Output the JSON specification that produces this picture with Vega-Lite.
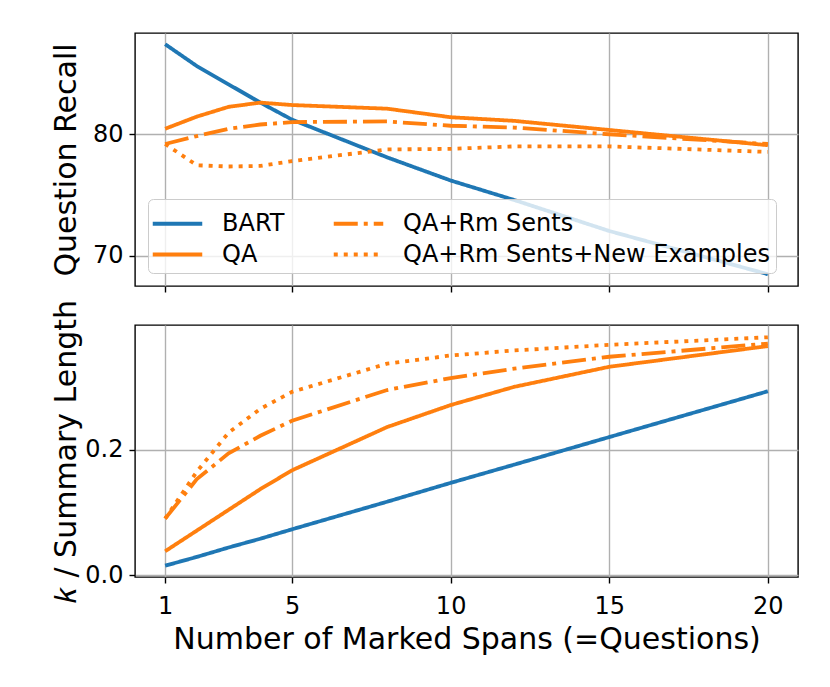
{
  "$schema": "https://vega.github.io/schema/vega-lite/v6.json",
  "padding": {"left": 50, "top": 32, "right": 30, "bottom": 10},
  "config": {
    "font": "DejaVu Sans",
    "view": {"stroke": "black", "strokeWidth": 1.4},
    "axis": {
      "grid": true, "gridColor": "#b0b0b0", "gridWidth": 1.4, "domain": false,
      "tickColor": "black", "tickWidth": 1.4, "tickSize": 6,
      "labelColor": "black", "titleColor": "black",
      "labelFont": "DejaVu Sans", "titleFont": "DejaVu Sans",
      "labelFontSize": 24, "titleFontSize": 30, "titleFontWeight": "normal"
    },
    "concat": {"spacing": 4}
  },
  "data": {"values": [
    {"series": "BART", "n": 1, "recall": 87.4, "k": 0.015},
    {"series": "BART", "n": 2, "recall": 85.6, "k": 0.029},
    {"series": "BART", "n": 3, "recall": 84.1, "k": 0.044},
    {"series": "BART", "n": 4, "recall": 82.6, "k": 0.058},
    {"series": "BART", "n": 5, "recall": 81.2, "k": 0.073},
    {"series": "BART", "n": 8, "recall": 78.1, "k": 0.117},
    {"series": "BART", "n": 10, "recall": 76.2, "k": 0.147},
    {"series": "BART", "n": 12, "recall": 74.6, "k": 0.176},
    {"series": "BART", "n": 15, "recall": 72.05, "k": 0.22},
    {"series": "BART", "n": 20, "recall": 68.5, "k": 0.293},
    {"series": "QA", "n": 1, "recall": 80.45, "k": 0.038},
    {"series": "QA", "n": 2, "recall": 81.45, "k": 0.071},
    {"series": "QA", "n": 3, "recall": 82.25, "k": 0.104},
    {"series": "QA", "n": 4, "recall": 82.6, "k": 0.137},
    {"series": "QA", "n": 5, "recall": 82.4, "k": 0.167},
    {"series": "QA", "n": 8, "recall": 82.1, "k": 0.236},
    {"series": "QA", "n": 10, "recall": 81.4, "k": 0.271},
    {"series": "QA", "n": 12, "recall": 81.1, "k": 0.3},
    {"series": "QA", "n": 15, "recall": 80.35, "k": 0.332},
    {"series": "QA", "n": 20, "recall": 79.1, "k": 0.365},
    {"series": "QA+Rm Sents", "n": 1, "recall": 79.2, "k": 0.09},
    {"series": "QA+Rm Sents", "n": 2, "recall": 79.85, "k": 0.153},
    {"series": "QA+Rm Sents", "n": 3, "recall": 80.45, "k": 0.194},
    {"series": "QA+Rm Sents", "n": 4, "recall": 80.8, "k": 0.222},
    {"series": "QA+Rm Sents", "n": 5, "recall": 81.0, "k": 0.246},
    {"series": "QA+Rm Sents", "n": 8, "recall": 81.05, "k": 0.295},
    {"series": "QA+Rm Sents", "n": 10, "recall": 80.7, "k": 0.314},
    {"series": "QA+Rm Sents", "n": 12, "recall": 80.55, "k": 0.329},
    {"series": "QA+Rm Sents", "n": 15, "recall": 80.0, "k": 0.348},
    {"series": "QA+Rm Sents", "n": 20, "recall": 79.2, "k": 0.369},
    {"series": "QA+Rm Sents+New Examples", "n": 1, "recall": 79.2, "k": 0.09},
    {"series": "QA+Rm Sents+New Examples", "n": 2, "recall": 77.45, "k": 0.165},
    {"series": "QA+Rm Sents+New Examples", "n": 3, "recall": 77.35, "k": 0.227},
    {"series": "QA+Rm Sents+New Examples", "n": 4, "recall": 77.4, "k": 0.265},
    {"series": "QA+Rm Sents+New Examples", "n": 5, "recall": 77.8, "k": 0.292},
    {"series": "QA+Rm Sents+New Examples", "n": 8, "recall": 78.75, "k": 0.337},
    {"series": "QA+Rm Sents+New Examples", "n": 10, "recall": 78.8, "k": 0.35},
    {"series": "QA+Rm Sents+New Examples", "n": 12, "recall": 79.0, "k": 0.358},
    {"series": "QA+Rm Sents+New Examples", "n": 15, "recall": 79.0, "k": 0.367},
    {"series": "QA+Rm Sents+New Examples", "n": 20, "recall": 78.55, "k": 0.379}
  ]},
  "resolve": {
    "scale": {"color": "independent", "strokeDash": "independent"},
    "legend": {"color": "independent", "strokeDash": "independent"}
  },
  "vconcat": [
    {
      "width": 663, "height": 253,
      "mark": {"type": "line", "strokeWidth": 3.8, "strokeCap": "butt"},
      "encoding": {
        "x": {"field": "n", "type": "quantitative",
              "scale": {"domain": [0.05, 20.95], "nice": false, "zero": false},
              "axis": {"values": [1, 5, 10, 15, 20], "labels": false, "title": null}},
        "y": {"field": "recall", "type": "quantitative",
              "scale": {"domain": [67.53, 88.32], "nice": false, "zero": false},
              "axis": {"values": [70, 80], "title": "Question Recall", "minExtent": 44, "maxExtent": 44, "titlePadding": 10, "labelPadding": 6}},
        "color": {"field": "series", "type": "nominal",
                  "scale": {"domain": ["BART", "QA", "QA+Rm Sents", "QA+Rm Sents+New Examples"],
                            "range": ["#1f77b4", "#ff7f0e", "#ff7f0e", "#ff7f0e"]},
                  "legend": {"orient": "bottom-left", "offset": 13, "columns": 2, "title": null,
                             "values": ["BART", "QA", "QA+Rm Sents", "QA+Rm Sents+New Examples"],
                             "gridAlign": "each",
                             "symbolType": "M-1.5,0H1.5", "symbolSize": 1089, "symbolStrokeWidth": 3.8,
                             "symbolOffset": 5,
                             "labelFontSize": 24, "labelColor": "black", "labelOffset": 26, "labelLimit": 600,
                             "columnPadding": 41, "rowPadding": 0, "padding": 6,
                             "fillColor": "rgba(255,255,255,0.8)", "strokeColor": "#cccccc", "cornerRadius": 5}},
        "strokeDash": {"field": "series", "type": "nominal",
                       "scale": {"domain": ["BART", "QA", "QA+Rm Sents", "QA+Rm Sents+New Examples"],
                                 "range": [[1, 0], [1, 0], [24, 6, 4, 6], [4, 6]]}}
      }
    },
    {
      "width": 663, "height": 252,
      "mark": {"type": "line", "strokeWidth": 3.8, "strokeCap": "butt"},
      "encoding": {
        "x": {"field": "n", "type": "quantitative",
              "scale": {"domain": [0.05, 20.95], "nice": false, "zero": false},
              "axis": {"values": [1, 5, 10, 15, 20], "title": "Number of Marked Spans (=Questions)", "labelPadding": 11, "titlePadding": 6}},
        "y": {"field": "k", "type": "quantitative",
              "scale": {"domain": [-0.003, 0.3986], "nice": false, "zero": false},
              "axis": {"values": [0, 0.2], "format": ".1f", "title": "𝑘 / Summary Length", "minExtent": 44, "maxExtent": 44, "titlePadding": 10, "labelPadding": 6}},
        "color": {"field": "series", "type": "nominal",
                  "scale": {"domain": ["BART", "QA", "QA+Rm Sents", "QA+Rm Sents+New Examples"],
                            "range": ["#1f77b4", "#ff7f0e", "#ff7f0e", "#ff7f0e"]},
                  "legend": null},
        "strokeDash": {"field": "series", "type": "nominal",
                       "scale": {"domain": ["BART", "QA", "QA+Rm Sents", "QA+Rm Sents+New Examples"],
                                 "range": [[1, 0], [1, 0], [24, 6, 4, 6], [4, 6]]},
                       "legend": null}
      }
    }
  ]
}
